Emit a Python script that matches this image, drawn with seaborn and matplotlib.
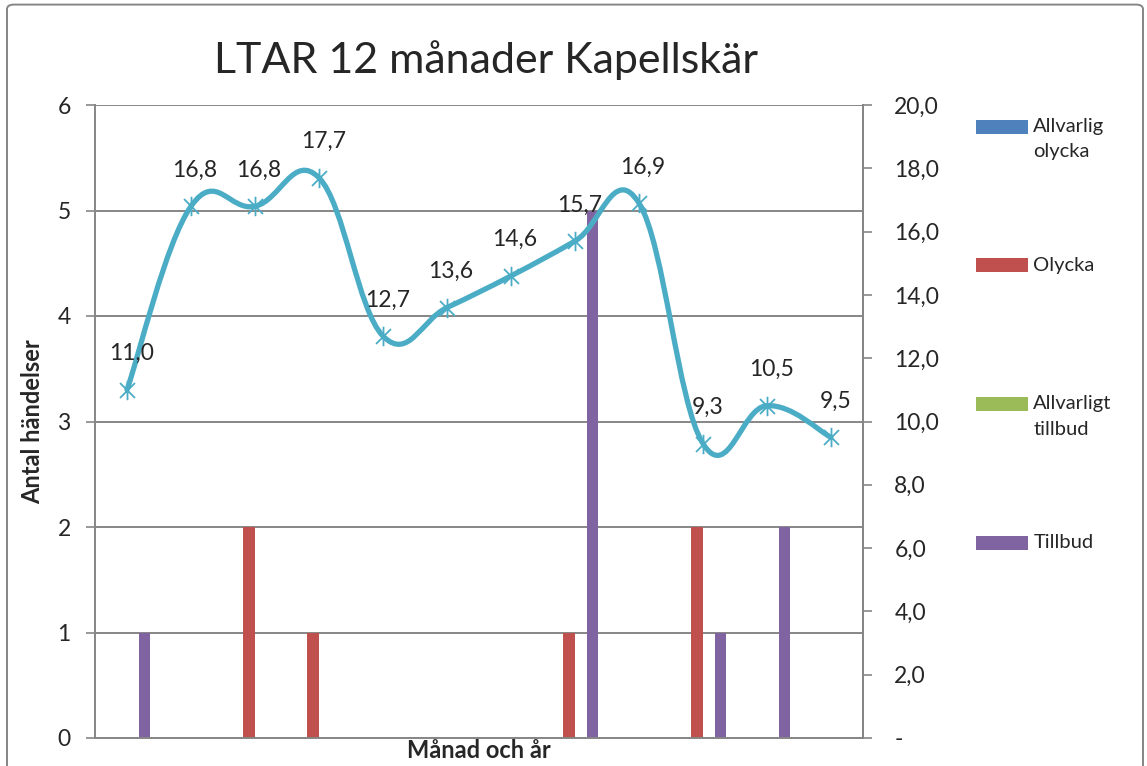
import numpy as np
import pandas as pd
import seaborn as sns
import matplotlib.pyplot as plt
from matplotlib.path import Path
from matplotlib.patches import PathPatch, FancyBboxPatch, Rectangle
from matplotlib.legend_handler import HandlerPatch
from matplotlib.ticker import FuncFormatter

# data
months = ['1', '2', '3', '4', '5', '6', '7', '8', '9', '10', '11', '12']
allvarlig_olycka = [0, 0, 0, 0, 0, 0, 0, 0, 0, 0, 0, 0]
olycka = [0, 0, 2, 1, 0, 0, 0, 1, 0, 2, 0, 0]
allvarligt_tillbud = [0, 0, 0, 0, 0, 0, 0, 0, 0, 0, 0, 0]
tillbud = [1, 0, 0, 0, 0, 0, 0, 5, 0, 1, 2, 0]
ltar = [11.0, 16.8, 16.8, 17.7, 12.7, 13.6, 14.6, 15.7, 16.9, 9.3, 10.5, 9.5]

series = ['Allvarlig olycka', 'Olycka', 'Allvarligt tillbud', 'Tillbud']
legend_labels = ['Allvarlig\nolycka', 'Olycka\n', 'Allvarligt\ntillbud', 'Tillbud\n']
colors = ['#4F81BD', '#C0504D', '#9BBB59', '#8064A2']
line_color = '#4BACC6'
gray = '#868686'

df = pd.DataFrame({
    'month': months * 4,
    'typ': [s for s in series for _ in months],
    'antal': allvarlig_olycka + olycka + allvarligt_tillbud + tillbud,
})

sns.set_style('white')
plt.rcParams['font.family'] = ['Lato', 'DejaVu Sans']

fig = plt.figure(figsize=(11.47, 7.66), dpi=100)
ax = fig.add_axes([95 / 1147, 1 - 738 / 766, 768 / 1147, 633 / 766])

sns.barplot(data=df, x='month', y='antal', hue='typ', hue_order=series,
            palette=colors, width=0.733, linewidth=0, saturation=1,
            ax=ax, legend=False)
ax.set_xlim(-0.5, 11.5)
ax.set_ylim(0, 6)
ax.set_yticks(range(7))
ax.set_axisbelow(True)
ax.yaxis.grid(True, color=gray, linewidth=1.4)
ax.set_xticklabels([])
ax.tick_params(axis='x', length=0)
ax.tick_params(axis='y', direction='out', length=6.5, width=1.2, color=gray,
               pad=11, labelsize=16.5, left=True)
ax.spines['top'].set_visible(False)
for side in ['left', 'bottom', 'right']:
    ax.spines[side].set_color(gray)
    ax.spines[side].set_linewidth(1.4)

ax.set_ylabel('Antal händelser', fontsize=17, fontweight='bold', va='center')
ax.yaxis.set_label_coords(-0.081, 0.5)
ax.set_xlabel('Månad och år', fontsize=17, fontweight='bold', va='center')
ax.xaxis.set_label_coords(0.5, -0.02)

# secondary axis with the smoothed LTAR line
ax2 = ax.twinx()
ax2.set_ylim(0, 20)
ax2.set_yticks(np.arange(0, 21, 2))
ax2.yaxis.set_major_formatter(FuncFormatter(
    lambda v, p: '-' if v == 0 else f'{v:.1f}'.replace('.', ',')))
ax2.tick_params(axis='y', direction='out', length=6.5, width=1.2, color=gray,
                pad=16, labelsize=16.5, right=True)
for side in ax2.spines.values():
    side.set_visible(False)
ax2.spines['right'].set_visible(True)
ax2.spines['right'].set_color(gray)
ax2.spines['right'].set_linewidth(1.4)

xs = np.arange(len(ltar))
pts = np.column_stack([xs, ltar])
k = 0.2
verts = [pts[0]]
codes = [Path.MOVETO]
for i in range(len(pts) - 1):
    prev_p = pts[i - 1] if i > 0 else pts[i]
    next_p = pts[i + 2] if i + 2 < len(pts) else pts[i + 1]
    c1 = pts[i] + k * (pts[i + 1] - prev_p)
    c2 = pts[i + 1] - k * (next_p - pts[i])
    verts += [c1, c2, pts[i + 1]]
    codes += [Path.CURVE4] * 3
ax2.add_patch(PathPatch(Path(verts, codes), facecolor='none',
                        edgecolor=line_color, linewidth=3.8,
                        capstyle='round', joinstyle='round'))

asterisk = Path([(-1, -1), (1, 1), (-1, 1), (1, -1), (0, -1.3), (0, 1.3)],
                [Path.MOVETO, Path.LINETO, Path.MOVETO, Path.LINETO,
                 Path.MOVETO, Path.LINETO])
ax2.plot(xs, ltar, linestyle='none', marker=asterisk, markersize=14,
         markeredgewidth=1.3, markeredgecolor=line_color, markerfacecolor='none')

for x, v in zip(xs, ltar):
    ax2.annotate(f'{v:.1f}'.replace('.', ','), (x, v), xytext=(3, 26),
                 textcoords='offset points', ha='center', va='center',
                 fontsize=16.5)


# legend: patch aligned with first text line
def make_patch(legend, orig_handle, xdescent, ydescent, width, height, fontsize):
    return Rectangle((-xdescent, -ydescent + fontsize * 0.62), width, height)


handles = [Rectangle((0, 0), 1, 1, facecolor=c, edgecolor='none') for c in colors]
leg = fig.legend(handles, legend_labels, loc='upper left',
                 bbox_to_anchor=(976 / 1147, 1 - 118 / 766), frameon=False,
                 fontsize=14.5, handlelength=2.6, handleheight=0.7,
                 handletextpad=0.25, labelspacing=4.78, borderpad=0,
                 borderaxespad=0,
                 handler_map={Rectangle: HandlerPatch(patch_func=make_patch)})
for t in leg.get_texts():
    t.set_linespacing(1.6)

fig.text(486 / 1147, 1 - 60 / 766, 'LTAR 12 månader Kapellskär',
         ha='center', va='center', fontsize=31)

fig.patches.append(FancyBboxPatch((7 / 1147, -0.05), 1136 / 1147, 1.044,
                                  boxstyle='round,pad=0,rounding_size=0.006',
                                  transform=fig.transFigure, facecolor='none',
                                  edgecolor=gray, linewidth=1.4))

fig.savefig('out.png', dpi=100)
